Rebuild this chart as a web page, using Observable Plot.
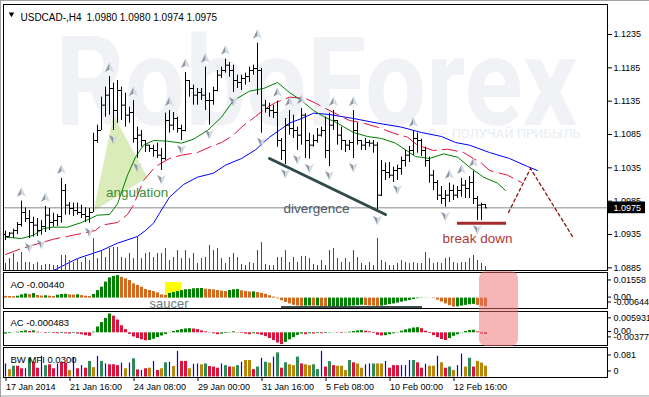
<!DOCTYPE html>
<html><head><meta charset="utf-8">
<script src="https://cdn.jsdelivr.net/npm/d3@7"></script>
<script src="https://cdn.jsdelivr.net/npm/@observablehq/plot@0.6"></script>
<style>
body{margin:0;background:#fff;}
#chart{position:relative;width:649px;height:397px;overflow:hidden;background:#fff;box-shadow:inset 1px 1px 0 #a0a0a0, inset 0 -2px 0 #d0d0d0;}
#chart svg{position:absolute;left:0;overflow:visible;}
</style></head><body><div id="chart"></div>
<script>
// ---------- DATA ----------
const open = [
1.0935,1.0932,1.0937,1.0941,1.0950,1.0968,1.0959,1.0953,1.0949,1.0941,
1.0947,1.0964,1.0953,1.0956,1.0962,1.1001,1.0979,1.0974,1.0971,1.0968,
1.0965,1.0962,1.0968,1.1076,1.1091,1.1129,1.1144,1.1154,1.1121,1.1151,
1.1129,1.1114,1.1118,1.1079,1.1084,1.1076,1.1069,1.1064,1.1061,1.1054,
1.1049,1.1106,1.1099,1.1109,1.1094,1.1091,1.1166,1.1154,1.1144,1.1148,
1.1144,1.1136,1.1136,1.1151,1.1174,1.1181,1.1189,1.1181,1.1166,1.1163,
1.1169,1.1172,1.1181,1.1184,1.1181,1.1129,1.1124,1.1121,1.1118,1.1076,
1.1061,1.1099,1.1094,1.1091,1.1084,1.1114,1.1076,1.1069,1.1076,1.1084,
1.1091,1.1061,1.1099,1.1106,1.1084,1.1076,1.1069,1.1073,1.1091,1.1076,
1.1069,1.1073,1.1072,1.1069,1.0994,1.1031,1.1028,1.1024,1.1031,1.1034,
1.1046,1.1054,1.1061,1.1079,1.1076,1.1061,1.1046,1.1024,1.1013,1.0994,
1.0989,1.0994,1.1001,1.0994,1.1001,1.1009,1.1004,1.1013,1.0989,1.0979,
1.0980];
const high = [
1.0940,1.0938,1.0943,1.0953,1.0985,1.0975,1.0971,1.0961,1.0959,1.0956,
1.0977,1.0974,1.0967,1.0965,1.1019,1.1010,1.0983,1.0982,1.0982,1.0979,
1.0975,1.0974,1.1087,1.1099,1.1141,1.1156,1.1172,1.1162,1.1166,1.1156,
1.1147,1.1126,1.1136,1.1096,1.1091,1.1076,1.1069,1.1069,1.1072,1.1064,
1.1117,1.1121,1.1118,1.1111,1.1099,1.1178,1.1166,1.1159,1.1154,1.1154,
1.1186,1.1147,1.1156,1.1181,1.1186,1.1198,1.1193,1.1189,1.1174,1.1174,
1.1177,1.1186,1.1189,1.1222,1.1184,1.1136,1.1132,1.1129,1.1135,1.1079,
1.1109,1.1121,1.1114,1.1096,1.1124,1.1116,1.1087,1.1084,1.1094,1.1096,
1.1111,1.1117,1.1121,1.1106,1.1096,1.1076,1.1076,1.1121,1.1102,1.1076,
1.1079,1.1076,1.1076,1.1073,1.1046,1.1042,1.1043,1.1036,1.1039,1.1051,
1.1061,1.1067,1.1090,1.1087,1.1078,1.1066,1.1051,1.1031,1.1016,1.1007,
1.1001,1.1012,1.1009,1.1007,1.1019,1.1016,1.1022,1.1030,1.0992,1.0982,
1.0980];
const low = [
1.0926,1.0931,1.0929,1.0935,1.0946,1.0953,1.0929,1.0931,1.0932,1.0934,
1.0938,1.0941,1.0946,1.0947,1.0952,1.0964,1.0964,1.0962,1.0964,1.0959,
1.0953,1.0952,1.0968,1.1072,1.1091,1.1111,1.1114,1.1091,1.1102,1.1106,
1.1096,1.1102,1.1072,1.1049,1.1066,1.1058,1.1058,1.1051,1.1049,1.1031,
1.1046,1.1087,1.1091,1.1087,1.1076,1.1089,1.1141,1.1129,1.1129,1.1136,
1.1121,1.1099,1.1129,1.1149,1.1169,1.1177,1.1171,1.1148,1.1154,1.1151,
1.1159,1.1163,1.1174,1.1144,1.1087,1.1117,1.1111,1.1109,1.1066,1.1046,
1.1040,1.1084,1.1079,1.1061,1.1069,1.1049,1.1048,1.1066,1.1072,1.1081,
1.1049,1.1037,1.1091,1.1069,1.1061,1.1058,1.1061,1.1049,1.1069,1.1061,
1.1061,1.1066,1.1057,1.0970,1.0992,1.1016,1.1019,1.1013,1.1016,1.1024,
1.1036,1.1043,1.1054,1.1057,1.1052,1.1036,1.1012,1.1001,1.0986,1.0980,
1.0976,1.0983,1.0986,1.0989,1.0991,1.0989,1.0989,1.0980,1.0956,1.0956,
1.0974];
const close = [
1.0932,1.0937,1.0941,1.0950,1.0968,1.0959,1.0953,1.0949,1.0941,1.0947,
1.0964,1.0953,1.0956,1.0962,1.1001,1.0979,1.0974,1.0971,1.0968,1.0965,
1.0962,1.0968,1.1076,1.1091,1.1129,1.1144,1.1154,1.1121,1.1151,1.1129,
1.1114,1.1118,1.1079,1.1084,1.1076,1.1069,1.1064,1.1061,1.1054,1.1049,
1.1106,1.1099,1.1109,1.1094,1.1091,1.1166,1.1154,1.1144,1.1148,1.1144,
1.1136,1.1136,1.1151,1.1174,1.1181,1.1189,1.1181,1.1166,1.1163,1.1169,
1.1172,1.1181,1.1184,1.1181,1.1129,1.1124,1.1121,1.1118,1.1076,1.1061,
1.1099,1.1094,1.1091,1.1084,1.1114,1.1076,1.1069,1.1076,1.1084,1.1091,
1.1061,1.1099,1.1106,1.1084,1.1076,1.1069,1.1073,1.1091,1.1076,1.1069,
1.1073,1.1072,1.1069,1.0994,1.1031,1.1028,1.1024,1.1031,1.1034,1.1046,
1.1054,1.1061,1.1079,1.1076,1.1061,1.1046,1.1024,1.1013,1.0994,1.0989,
1.0994,1.1001,1.0994,1.1001,1.1009,1.1004,1.1013,1.0989,1.0979,1.0980,
1.0975];
const volume = [
700,1200,1700,800,1800,800,800,600,800,500,
600,600,500,500,1500,1500,1000,800,1100,800,
1300,1000,3200,1200,2000,1300,2200,2300,2300,1300,
1200,1700,1200,3400,1200,1700,1800,1300,1700,1700,
2200,1000,1300,2000,1200,2000,1200,1700,700,1200,
1300,2500,2000,2200,1200,700,1300,1700,1300,600,
500,800,700,2000,2800,600,500,500,1300,1300,
2000,800,1300,800,1400,1400,1200,600,500,1000,
500,2000,2200,1200,800,1200,800,2000,1300,700,
500,800,500,3200,1000,800,500,500,700,1000,
800,700,800,700,700,1800,1200,700,800,700,
1200,1300,800,700,800,800,1200,1500,1000,700,
400];
// Alligator lines (bar index, price)
const lipsIdx = [0,4,7,9.5,12,15.5,19,23,26,28,30.5,32.5,34.5,37,40.5,44,47,50.5,54,57,61,64.5,68,71,74,77,79.5,83,87,90.5,94,97.5,99,102.5,106,109.5,113,116,119.5,123,125];
const lipsVal = [1.0931,1.0929,1.0934,1.0944,1.0946,1.0946,1.0953,1.0964,1.0965,1.0981,1.1024,1.1051,1.1069,1.1076,1.1075,1.1072,1.1078,1.1091,1.1111,1.1136,1.1150,1.1154,1.1163,1.1148,1.1136,1.1121,1.1112,1.1102,1.1088,1.1082,1.1079,1.1072,1.1066,1.1052,1.1049,1.1056,1.1051,1.1036,1.1021,1.1012,1.1001];
const teethIdx = [0,4,12,17,22.5,24,28,30.5,32,34.5,37.5,41,44,48,51,54,57,59,62.5,65,67.5,71,75,77.5,80,83,86,89.5,93,97,100.5,103,107,110.5,114.5,117,119,121,125.5,129];
const teethVal = [1.0905,1.0914,1.0928,1.0934,1.0941,1.0949,1.0953,1.0965,1.0979,1.1016,1.1037,1.1049,1.1054,1.1058,1.1066,1.1073,1.1084,1.1096,1.1112,1.1124,1.1133,1.1141,1.1139,1.1132,1.1124,1.1115,1.1106,1.1102,1.1096,1.1087,1.1081,1.1069,1.1061,1.1063,1.1058,1.1049,1.1042,1.1031,1.1024,1.1013];
const jawIdx = [6,12,18,24,28,33,35,37,38.5,41,44.5,48,52,55,59,62.5,66,71,74,77,81,87,93,99,104,109,112.5,116,121,126,130.5,133];
const jawVal = [1.0872,1.0881,1.0899,1.0911,1.0922,1.0932,1.0941,1.0952,1.0967,1.0991,1.1010,1.1021,1.1027,1.1039,1.1049,1.1062,1.1081,1.1102,1.1109,1.1117,1.1115,1.1109,1.1102,1.1096,1.1088,1.1082,1.1073,1.1069,1.1058,1.1049,1.1037,1.1031];
const fractalUp = [4,10,14,26,32,41,45,50,55,63,68,71,74,82,87,102,111,114,117];
const fractalDown = [6,9,21,27,33,39,44,51,57,64,70,73,76,81,87,93,98,110,118];
const ao = [
0.0012,0.0011,0.0010,0.0013,0.0022,0.0028,0.0024,0.0031,0.0018,0.0014,
0.0016,0.0013,0.0011,0.0020,0.0025,0.0026,0.0022,0.0021,0.0023,0.0017,
0.0013,0.0011,0.0025,0.0052,0.0075,0.0110,0.0139,0.0149,0.0155,0.0143,
0.0133,0.0121,0.0098,0.0087,0.0075,0.0059,0.0052,0.0045,0.0036,0.0022,
0.0018,0.0032,0.0039,0.0045,0.0052,0.0057,0.0059,0.0064,0.0065,0.0066,
0.0061,0.0059,0.0057,0.0052,0.0048,0.0045,0.0052,0.0057,0.0059,0.0050,
0.0046,0.0042,0.0043,0.0038,0.0033,0.0026,0.0016,0.0007,-0.0005,-0.0018,
-0.0030,-0.0040,-0.0050,-0.0054,-0.0056,-0.0055,-0.0054,-0.0055,-0.0054,-0.0060,
-0.0064,-0.0062,-0.0061,-0.0060,-0.0059,-0.0058,-0.0056,-0.0054,-0.0052,-0.0049,
-0.0052,-0.0054,-0.0055,-0.0057,-0.0055,-0.0050,-0.0045,-0.0040,-0.0034,-0.0028,
-0.0022,-0.0016,-0.0010,-0.0004,-0.0002,-0.0001,-0.00005,-0.0003,-0.0014,-0.0027,
-0.0040,-0.0052,-0.0062,-0.0060,-0.0055,-0.0050,-0.0046,-0.0043,-0.0050,-0.0056,
-0.0060];
const ac = [
-0.0004,-0.0002,0.0000,0.0002,0.0004,0.0006,0.0004,0.0006,0.0002,0.0000,
-0.0002,-0.0001,-0.0002,-0.0003,-0.0002,-0.0003,-0.0004,-0.0002,-0.0004,-0.0006,
-0.0009,-0.0011,0.0002,0.0018,0.0032,0.0045,0.0059,0.0052,0.0040,0.0022,
0.0010,-0.0005,-0.0013,-0.0018,-0.0022,-0.0025,-0.0024,-0.0020,-0.0015,-0.0010,
-0.0005,0.0000,0.0004,0.0007,0.0010,0.0012,0.0013,0.0012,0.0010,0.0006,
0.0003,0.0001,-0.0003,-0.0006,-0.0004,-0.0002,0.0001,0.0003,0.0001,-0.0002,
-0.0004,-0.0006,-0.0003,-0.0005,-0.0008,-0.0012,-0.0018,-0.0024,-0.0032,-0.0037,
-0.0030,-0.0022,-0.0015,-0.0008,-0.0004,-0.0006,-0.0003,-0.0004,-0.0002,-0.0003,
-0.0002,-0.0001,0.0000,-0.0001,-0.0002,0.0001,0.0002,0.0004,0.0006,0.0007,
0.0005,0.0003,-0.0002,-0.0008,-0.0010,-0.0009,-0.0006,-0.0003,0.0001,0.0005,
0.0009,0.0012,0.0015,0.0016,0.0013,0.0005,-0.0002,-0.0009,-0.0015,-0.0021,
-0.0024,-0.0018,-0.0011,-0.0006,0.0001,0.0004,0.0007,0.0008,0.0003,-0.0004,
-0.0005];
const mfi = [
0.046,0.026,0.038,0.038,0.029,0.029,0.066,0.052,0.031,0.073,
0.040,0.043,0.029,0.046,0.051,0.049,0.023,0.069,0.029,0.040,
0.031,0.055,0.033,0.073,0.055,0.046,0.043,0.043,0.040,0.049,
0.029,0.049,0.064,0.025,0.023,0.029,0.031,0.055,0.023,0.029,
0.050,0.052,0.037,0.090,0.055,0.055,0.029,0.045,0.046,0.043,
0.046,0.037,0.035,0.031,0.046,0.040,0.035,0.035,0.040,0.052,
0.058,0.058,0.026,0.035,0.066,0.052,0.049,0.070,0.085,0.031,
0.050,0.043,0.040,0.070,0.046,0.043,0.040,0.043,0.026,0.090,
0.035,0.054,0.040,0.038,0.038,0.023,0.058,0.050,0.046,0.031,
0.043,0.046,0.046,0.046,0.046,0.055,0.031,0.040,0.040,0.040,
0.040,0.058,0.058,0.050,0.031,0.045,0.038,0.038,0.073,0.050,
0.031,0.035,0.023,0.040,0.081,0.035,0.066,0.035,0.055,0.049,
0.038];
const mfiKind = (
"bygrrbgrrb"+"grrbrrybrb"+"rgybgbrrrb"+"ybgrbrybry"+"gbybrrybby"+
"grrrbgrygb"+"yyrgbgybgr"+"gyygryyggb"+"rgryyygryy"+"bbgyybrrrb"+
"bbgrrbyyby"+"rgybbygryy"+"y").split("");
const priceTicks = [1.1235,1.1185,1.1135,1.1085,1.1035,1.0985,1.0935,1.0885];
const timeTickIdx = [0,16,32,48,64,80,96,112];
const timeTickLabels = ["17 Jan 2014","21 Jan 16:00","24 Jan 08:00","29 Jan 00:00","31 Jan 16:00","5 Feb 08:00","10 Feb 00:00","12 Feb 16:00"];
const lastPrice = 1.0975;
// annotations (bar index, value)
const angulationTri = [{i:22,p:1.0970},{i:27,p:1.1114},{i:35.5,p:1.1021}];
const divergenceLine = [{i:66,p:1.1049},{i:95,p:1.0965}];
const breakDown = {i1:113, i2:125.25, p:1.0952};
const projection = [{i:125.75,p:1.0968},{i:131.25,p:1.1034},{i:141.75,p:1.0932}];
const notes = [
  {text:"angulation", i:32.9, p:1.0997, color:"#3d8f35", size:13},
  {text:"divergence", i:77.75, p:1.0974, color:"#4b5966", size:13.8},
  {text:"break down", i:118, p:1.0929, color:"#b03838", size:13.4}
];
const saucerBox = {i1:40, i2:44, v1:0, v2:0.0107};
const saucerNote = {text:"saucer", i:40.9, v:-0.0037};
const aoUnderline = {i1:69, i2:104.25, v:-0.0061};
const pinkZone = {i1:118.5, i2:128.25};

// ---------- BUILD ----------
const chart = document.getElementById("chart");
const font = "'Liberation Sans', Arial, sans-serif";
const style = {background:"transparent", fontFamily:font, fontSize:"9px", color:"black", overflow:"visible"};
const xCfg = {domain:[-0.5,150.5], axis:null};
const common = {width:649, marginLeft:3, marginRight:42, x:xCfg, style};
function place(svg, top){ svg.style.top = top+"px"; chart.appendChild(svg); return svg; }

const N = close.length;
const bars = d3.range(N).map(i => ({i, o:open[i], h:high[i], l:low[i], c:close[i]}));
const lips = lipsIdx.map((i,k)=>({i, p:lipsVal[k]}));
const teeth = teethIdx.map((i,k)=>({i, p:teethVal[k]}));
const jaw = jawIdx.map((i,k)=>({i, p:jawVal[k]}));
const upF = fractalUp.map(i=>({i, p:high[i]}));
const dnF = fractalDown.map(i=>({i, p:low[i]}));

const aUL={draw(c){c.moveTo(0,-5);c.lineTo(-4.5,4.5);c.lineTo(0,2);c.closePath();}};
const aUR={draw(c){c.moveTo(0,-5);c.lineTo(4.5,4.5);c.lineTo(0,2);c.closePath();}};
const aDL={draw(c){c.moveTo(0,5);c.lineTo(-4.5,-4.5);c.lineTo(0,-2);c.closePath();}};
const aDR={draw(c){c.moveTo(0,5);c.lineTo(4.5,-4.5);c.lineTo(0,-2);c.closePath();}};

function sideLabel(v, t, dy){
  return [
    Plot.ruleY([v], {y:d=>d, x1:150.5, x2:151.5, dy, stroke:"black"}),
    Plot.text([v], {y:d=>d, text:()=>t, frameAnchor:"right", dx:6, dy, textAnchor:"start", fontSize:9, fill:"black"})
  ];
}
function panelTitle(t, dy){
  return Plot.text([t], {text:d=>d, frameAnchor:"top-left", dx:7, dy, textAnchor:"start", fontSize:9.5, fill:"black"});
}

// main price panel
const mainSvg = Plot.plot({
  ...common, height:267, marginTop:0, marginBottom:1,
  y:{domain:[1.0881,1.1280], axis:null},
  marks:[
    Plot.text(["RoboForex"], {x:()=>12.5, y:()=>1.1099, text:d=>d, textAnchor:"start", lineAnchor:"bottom", fontSize:124, fontWeight:"bold", fontFamily:"Roboto, 'Liberation Sans', sans-serif", fill:"#f0f2f6"}),
    Plot.text(["Р – ПОЛУЧАЙ ПРИБЫЛЬ"], {x:()=>143.75, y:()=>1.10865, text:d=>d, textAnchor:"end", fontSize:13, fontFamily:"Roboto, sans-serif", fill:"#e9edf2"}),
    Plot.line(angulationTri, {x:"i", y:"p", fill:"#d4e9ad", stroke:"none", fillOpacity:0.85}),
    Plot.ruleY([lastPrice], {stroke:"#8a8a8a"}),
    Plot.line(jaw, {x:"i", y:"p", stroke:"#0000ff", strokeWidth:1, clip:true}),
    Plot.line(teeth, {x:"i", y:"p", stroke:"#dc143c", strokeWidth:1, strokeDasharray:"15,6", clip:true}),
    Plot.line(lips, {x:"i", y:"p", stroke:"#008000", strokeWidth:1, clip:true}),
    Plot.ruleX(bars, {x:"i", y1:"l", y2:"h", stroke:"black"}),
    Plot.ruleY(bars, {y:"o", x1:d=>d.i-0.5, x2:"i", stroke:"black"}),
    Plot.ruleY(bars, {y:"c", x1:"i", x2:d=>d.i+0.5, stroke:"black"}),
    Plot.line(divergenceLine, {x:"i", y:"p", stroke:"#2f4a4a", strokeWidth:3}),
    Plot.ruleY([breakDown], {y:"p", x1:"i1", x2:"i2", stroke:"#a52a2a", strokeWidth:3}),
    Plot.line(projection, {x:"i", y:"p", stroke:"#8b1010", strokeWidth:1.3, strokeDasharray:"3,3"}),
    Plot.dot(upF, {x:"i", y:"p", dy:-9, symbol:aUL, fill:"#8c96a4", stroke:"none"}),
    Plot.dot(upF, {x:"i", y:"p", dy:-9, symbol:aUR, fill:"#d3d9e1", stroke:"none"}),
    Plot.dot(dnF, {x:"i", y:"p", dy:9, symbol:aDL, fill:"#8c96a4", stroke:"none"}),
    Plot.dot(dnF, {x:"i", y:"p", dy:9, symbol:aDR, fill:"#d3d9e1", stroke:"none"}),
    Plot.text(notes, {x:"i", y:"p", text:"text", fill:"color", fontSize:13.5}),
    Plot.dot([0], {frameAnchor:"top-left", dx:8, dy:9.5, symbol:"triangle2", rotate:180, r:2.6, fill:"black", stroke:"none"}),
    Plot.text(["USDCAD-,H4"], {text:d=>d, frameAnchor:"top-left", dx:17, dy:9, textAnchor:"start", fontSize:10, fill:"black"}),
    Plot.text(["1.0980 1.0980 1.0974 1.0975"], {text:d=>d, frameAnchor:"top-left", dx:83, dy:9, textAnchor:"start", fontSize:10, fill:"black"}),
    Plot.axisY(priceTicks, {anchor:"right", tickSize:4, tickPadding:2, tickFormat:d=>d.toFixed(4), label:null, fontSize:9}),
    Plot.rect([lastPrice], {x1:150.5, x2:160, y1:d=>d-0.00088, y2:d=>d+0.00088, fill:"black"}),
    Plot.text([lastPrice], {y:d=>d, text:d=>d.toFixed(4), frameAnchor:"right", dx:6, textAnchor:"start", fill:"white", fontSize:9}),
    Plot.frame({stroke:"black"})
  ]
});
place(mainSvg, 4);
mainSvg.querySelectorAll("text").forEach(t => { if (t.textContent === "RoboForex") { t.setAttribute("textLength", 522); t.setAttribute("lengthAdjust", "spacingAndGlyphs"); } });

// volume overlay
place(Plot.plot({
  ...common, height:267, marginTop:0, marginBottom:1,
  y:{domain:[0,26600], axis:null},
  marks:[ Plot.ruleX(bars.map(b=>({i:b.i, v:volume[b.i]})), {x:"i", y1:0, y2:"v", stroke:"#008000"}) ]
}), 4);

// AO panel
const aoData = ao.map((v,i)=>({i, v, col: (i===0 || v < ao[i-1]) ? "#d2691e" : "#008000"}));
place(Plot.plot({
  ...common, height:37, marginTop:0, marginBottom:1,
  y:{domain:[-0.00716,0.01762], axis:null},
  marks:[
    Plot.rect([saucerBox], {x1:"i1", x2:"i2", y1:"v1", y2:"v2", fill:"#ffff00"}),
    Plot.ruleX(aoData, {x:"i", y1:0, y2:"v", stroke:"col", strokeWidth:3}),
    Plot.ruleY([aoUnderline], {y:"v", x1:"i1", x2:"i2", stroke:"#3b4d4d", strokeWidth:2}),
    Plot.text([saucerNote], {x:"i", y:"v", text:"text", fontSize:13, fill:"#6a7a85"}),
    panelTitle("AO -0.00440", 9),
    ...sideLabel(0.01558, "0.01558", 4.5),
    ...sideLabel(0, "0.00", -1),
    ...sideLabel(-0.00644, "-0.00644", -5.5),
    Plot.frame({stroke:"black"})
  ]
}), 272);

// AC panel
const acData = ac.map((v,i)=>({i, v, col: (i===0 || v >= ac[i-1]) ? "#008000" : "#dc143c"}));
place(Plot.plot({
  ...common, height:35, marginTop:0, marginBottom:1,
  y:{domain:[-0.00397,0.00666], axis:null},
  marks:[
    Plot.ruleX(acData, {x:"i", y1:0, y2:d=> Math.abs(d.v) < 0.00004 ? 0.00004 : d.v, stroke:"col", strokeWidth:3}),
    panelTitle("AC -0.000483", 8),
    ...sideLabel(0.005931, "0.005931", 4),
    ...sideLabel(0, "0.00", -1.3),
    ...sideLabel(-0.00377, "-0.00377", -8),
    Plot.frame({stroke:"black"})
  ]
}), 311);

// BW MFI panel + time axis
const mfiColors = {g:"#2e8b57", r:"#dc143c", y:"#b8860b", b:"#0000ff"};
const mfiData = mfi.map((v,i)=>({i, v, k:mfiKind[i], col:mfiColors[mfiKind[i]]}));
place(Plot.plot({
  ...common, height:50, marginTop:0, marginBottom:20,
  y:{domain:[-0.0018,0.1039], axis:null},
  marks:[
    Plot.ruleX(mfiData, {filter:d=>d.k!=="b", x:"i", y1:0, y2:"v", stroke:"col", strokeWidth:3}),
    Plot.ruleX(mfiData, {filter:d=>d.k==="b", x:"i", y1:0, y2:"v", stroke:"col", strokeWidth:1.2}),
    panelTitle("BW MFI 0.0300", 9),
    ...sideLabel(0.081, "0.081", 1),
    ...sideLabel(0, "0", -6),
    Plot.frame({stroke:"black"}),
    Plot.axisX(timeTickIdx, {anchor:"bottom", tickSize:4, tickPadding:2, textAnchor:"start", dx:0.5, label:null, fontSize:9,
      tickFormat:d=>timeTickLabels[timeTickIdx.indexOf(d)]})
  ]
}), 347);

// pink highlight over AO/AC end
place(Plot.plot({
  ...common, height:75, marginTop:0, marginBottom:0,
  y:{domain:[0,1], axis:null},
  marks:[ Plot.rect([pinkZone], {x1:"i1", x2:"i2", y1:0, y2:1, rx:7, fill:"#f06e6e", fillOpacity:0.5}) ]
}), 271);
</script></body></html>
